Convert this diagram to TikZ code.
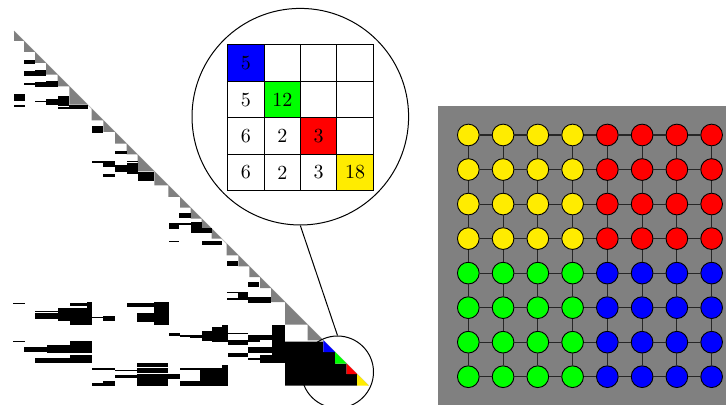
\documentclass[tikz,border=0pt]{standalone}
\definecolor{myyellow}{RGB}{255,236,0}
\definecolor{mygray}{RGB}{128,128,128}
\tikzset{
  tri/.style={fill=mygray},
  cellbox/.style={draw, line width=0.5pt, minimum size=18.2pt, inner sep=0pt, anchor=center},
  gnode/.style={circle, draw, line width=0.45pt, minimum size=10.85pt, inner sep=0pt},
  gedge/.style={draw=black!85, line width=0.55pt},
  lens/.style={circle, draw, line width=0.5pt, inner sep=0pt}
}
\begin{document}
\begin{tikzpicture}[x=0.5pt,y=-0.5pt]
\useasboundingbox (0,0) rectangle (726,405);

% ---------------- sparse matrix ----------------
% light diagonal line
\draw[gray!45, line width=0.5pt] (14,31) -- (368.5,385.5);
% gray diagonal triangles
\foreach \a/\b in {14/24,24/35,35/46,46/57.7,57.7/69.3,69.3/87.7,91.7/103.3,103.3/115,115/126.7,126.7/137.5,137.5/154.3,154.3/168.3,168.3/180,180/190.7,190.7/201.7,201.7/211.7,211.7/221.7,226.7/238.3,238.3/249.3,249.3/260,260/271,271/285,285/307.5,307.5/323.3}
  \fill[tri] (\a,\a+17) -- (\b,\b+17) -- (\a,\b+17) -- cycle;

% black nonzero blocks
\foreach \a/\b/\c/\d in {
24/60.3/35/63.7, 24/70.7/35/75.7, 35/69.7/46/75.7, 24/83/35/84.7, 35/82/46/87.3,
46/80.7/57.7/87.3, 14/94/25/101.3, 14/105.3/25/107, 35/100.7/46/102, 46/98.7/57.7/104.7,
57.7/96.3/69.3/106.3, 57.7/107.3/69.3/108.7, 69.3/105.3/87.7/108.7, 91.7/126/103.3/132.7,
115/150.7/126.7/154.3, 126.7/160.7/137.7/162, 91.7/160.7/115/163.3, 103.3/160.7/115/166.7,
115/165/126.7/171.7, 126.7/163.3/137.7/174, 137.7/171.7/154.3/180.7, 103.3/174/115/176.7,
179/212.7/190.7/217.7, 169/223.5/179/229, 179/222.7/190.7/225, 190.7/221.7/201.7/226.7,
190.7/227.5/201.7/233, 201.7/228.3/211.7/233.3, 169/240.7/179/242.5, 201.7/240.7/221.7/245,
226.7/260.7/238.3/265.7, 248.3/281.7/259.3/287.3, 226.7/291.5/238.3/292.7, 238.3/291.7/248.3/300,
226.7/298.3/238.3/300.3, 248.3/297/271/302.5,
13.3/302.7/25/304, 70/302.7/87.3/306, 87.3/301.7/91.7/325, 35/310.7/58.3/312.3,
35/313.3/58.3/319.3, 58.3/308.3/87.3/320.7, 70/320.7/87.3/325, 91.7/316.7/103.3/318.3,
103.3/315.7/115/320.7, 126.7/302.7/154/307.3, 154/301.7/169/325, 136.7/312.7/154/321.7,
169/332.7/180/335.7, 180/335/200/336.5, 190/335/201.7/338.3, 201.7/330.7/211.7/340.7,
211.7/327.3/228.3/341.7, 221.7/325/228.3/328.3, 228.3/332.7/248.3/334, 228.3/340/248.3/345,
248.3/335/260/341.7, 260/335/271.7/340, 271.7/325/285/363.3, 228.3/353.3/248.3/356.7,
248.3/346.7/285/353.3, 248.3/358.3/260/360, 260/355/285/363.3,
13.3/340.7/25/342, 24/346.7/46.7/351.7, 46.7/345/70/352.7, 70/340.7/91.7/352.7,
35/357.7/70/363.3, 70/355/91.7/363.3, 91.7/368.3/115/370, 115/369.5/136.7/370.7,
136.7/363.3/168.3/367.3, 136.7/368.3/168.3/372.7, 115/375/136.7/378.3, 136.7/374/180/379.3,
136.7/379.3/168.3/385.5, 91.7/383.3/103.3/385.5, 103.3/380.7/115/385.5, 180/368.3/200/370,
180/380.7/200/385.5, 200/368.3/221.7/385.5, 221.7/365/228.3/385.5}
  \fill (\a,\b) rectangle (\c,\d);

% bottom-right dense block
\fill (285,341.7) -- (323.3,341.7) -- (323.3,352) -- (335,352) -- (335,363.7) -- (346.7,363.7)
  -- (346.7,374) -- (357,374) -- (357,385.5) -- (285,385.5) -- cycle;
% coloured diagonal triangles
\foreach \a/\b/\cc in {323.3/335/blue, 335/346.7/green, 346.7/357/red, 357/368.5/myyellow}
  \fill[\cc] (\a,\a+17) -- (\b,\b+17) -- (\a,\b+17) -- cycle;

% ---------------- magnifier ----------------
\node[lens, minimum size=108.3pt] (mag) at (300.3,116.7) {};
\node[lens, minimum size=36pt] (spot) at (337.5,372) {};
\draw[line width=0.5pt] (mag.south) -- (spot.north);

% 4x4 table
\foreach \r/\c/\t/\f in {0/0/5/blue, 0/1//white, 0/2//white, 0/3//white,
  1/0/5/white, 1/1/12/green, 1/2//white, 1/3//white,
  2/0/6/white, 2/1/2/white, 2/2/3/red, 2/3//white,
  3/0/6/white, 3/1/2/white, 3/2/3/white, 3/3/18/myyellow}
  \node[cellbox, fill=\f] (t-\r-\c) at ({245.9+36.4*\c},{63.2+36.4*\r}) {\t};

% ---------------- grid graph ----------------
\fill[mygray] (437.7,105.7) rectangle (727,406);
\foreach \i in {0,...,7}{
  \foreach \j in {0,...,7}{
    \ifnum\j<4
      \ifnum\i<4 \def\cc{myyellow}\else\def\cc{red}\fi
    \else
      \ifnum\i<4 \def\cc{green}\else\def\cc{blue}\fi
    \fi
    \node[gnode, fill=\cc] (g-\i-\j) at ({468.3+34.76*\i},{135+34.53*\j}) {};
  }
}
\foreach \i in {0,...,6}{
  \foreach \j in {0,...,7}{
    \pgfmathtruncatemacro\k{\i+1}
    \draw[gedge] (g-\i-\j) -- (g-\k-\j);
    \draw[gedge] (g-\j-\i) -- (g-\j-\k);
  }
}
\end{tikzpicture}
\end{document}
